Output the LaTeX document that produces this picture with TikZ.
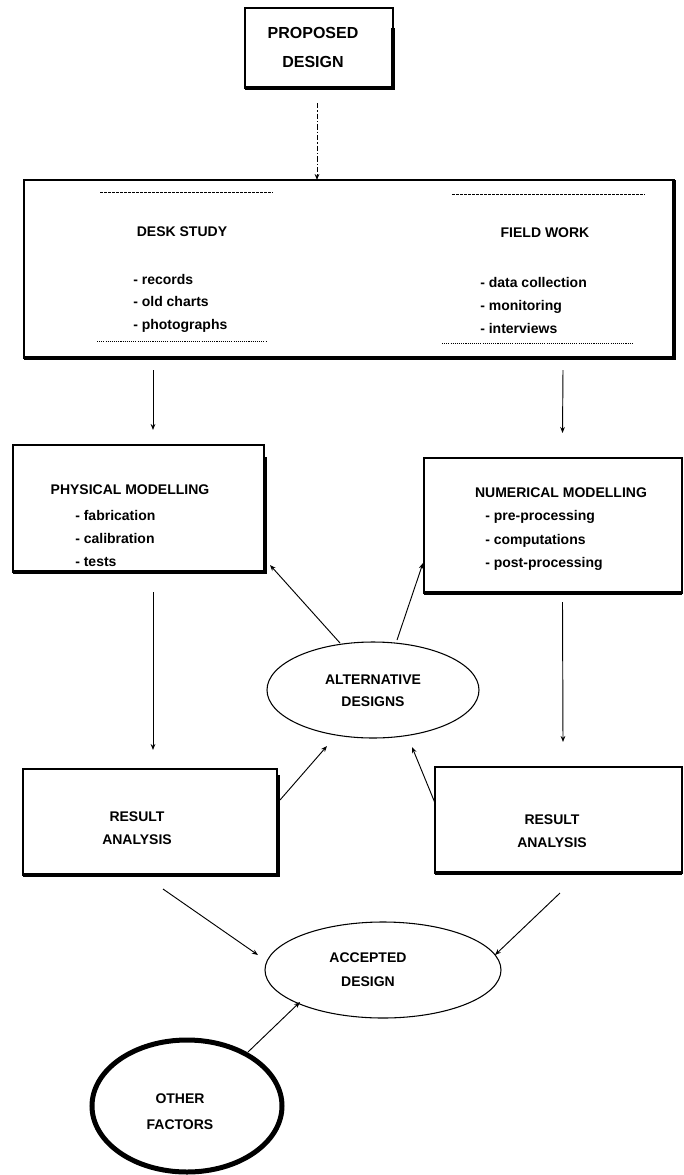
\documentclass[tikz,border=0pt]{standalone}
\usepackage{fontspec}
\setmainfont{Liberation Sans}
\usetikzlibrary{shapes.geometric,arrows.meta,calc}
\tikzset{
  pxgrid/.style={x=0.75pt,y=-0.75pt},
  box/.style={draw, line width=0.9pt, rectangle, inner sep=0pt, outer sep=0pt},
  oval/.style={draw, line width=0.8pt, ellipse, inner sep=0pt, outer sep=0pt},
  lbl/.style={font=\fontsize{10.5}{17}\selectfont\bfseries, inner sep=0pt, align=center},
  itemlist/.style={font=\fontsize{10.5}{17.2}\selectfont\bfseries, inner sep=0pt, align=left, anchor=west},
  arr/.style={line width=0.7pt, -{Stealth[length=4.5pt,width=3.5pt]}},
  shadowedge/.style={line width=2.6pt},
  guide/.style={line width=0.6pt, dash pattern=on 2pt off 1pt},
  dotguide/.style={line width=0.6pt, dash pattern=on 0.8pt off 0.8pt},
}
\begin{document}
\begin{tikzpicture}[pxgrid]
\fill[white] (0,0) rectangle (683,1175);
\useasboundingbox (0,0) rectangle (683,1175);

% Proposed design
\node[box, minimum width=111pt, minimum height=60pt] (prop) at (319,48) {};
\node[font=\fontsize{12}{21.75}\selectfont\bfseries, align=center, inner sep=0pt] (propt) at (313,47.5) {PROPOSED\\DESIGN};
\draw[shadowedge] ($(prop.north east)+(0,20)$) -- (prop.south east) -- (prop.south west);

% Desk study / field work box
\node[box, minimum width=487.5pt, minimum height=133.5pt] (big) at (349,269) {};
\draw[shadowedge] (big.north east) -- (big.south east) -- (big.south west);
\draw[guide] (100,192) -- (273,192);
\draw[guide] (452,194) -- (645,194);
\draw[dotguide] (97,341) -- (267,341);
\draw[dotguide] (442,343) -- (633,343);
\node[lbl] (desk) at (182,232) {DESK STUDY};
\node[itemlist, font=\fontsize{10.5}{16.9}\selectfont\bfseries] (deskitems) at (133,303) {- records\\- old charts\\- photographs};
\node[lbl] (field) at (545,233) {FIELD WORK};
\node[itemlist, font=\fontsize{10.5}{17.2}\selectfont\bfseries] (fielditems) at (480,305.5) {- data collection\\- monitoring\\- interviews};

% Physical modelling
\node[box, minimum width=188.25pt, minimum height=95.25pt] (phys) at (138.5,508.5) {};
\draw[shadowedge] ($(phys.north east)+(1,12)$) -- ($(phys.south east)+(1,0)$) -- (phys.south west);
\node[lbl] (physt) at (130,490) {PHYSICAL MODELLING};
\node[itemlist, font=\fontsize{10.5}{17.6}\selectfont\bfseries] (physitems) at (75,538.5) {- fabrication\\- calibration\\- tests};

% Numerical modelling
\node[box, minimum width=193.5pt, minimum height=101.25pt] (num) at (553,525.5) {};
\draw[shadowedge] (num.south west) -- (num.south east);
\node[lbl] (numt) at (561,493) {NUMERICAL MODELLING};
\node[itemlist, font=\fontsize{10.5}{17.6}\selectfont\bfseries] (numitems) at (485,540.5) {- pre-processing\\- computations\\- post-processing};

% Alternative designs
\node[oval, minimum width=159pt, minimum height=72pt] (alt) at (373,690) {};
\node[lbl, font=\fontsize{10.5}{16.5}\selectfont\bfseries] (altt) at (373,691) {ALTERNATIVE\\DESIGNS};

% Result analysis boxes
\node[box, minimum width=190.5pt, minimum height=79.5pt] (res1) at (150,822) {};
\draw[shadowedge] ($(res1.north east)+(1,6)$) -- ($(res1.south east)+(1,0)$) -- (res1.south west);
\node[lbl, font=\fontsize{10.5}{17.25}\selectfont\bfseries] (res1t) at (137,828.5) {RESULT\\ANALYSIS};

\node[box, minimum width=185.25pt, minimum height=79.5pt] (res2) at (558.5,820) {};
\draw[shadowedge] (res2.south west) -- (res2.south east);
\node[lbl, font=\fontsize{10.5}{17.25}\selectfont\bfseries] (res2t) at (552,831) {RESULT\\ANALYSIS};

% Accepted design
\node[oval, minimum width=177pt, minimum height=72pt] (acc) at (383,970) {};
\node[lbl, font=\fontsize{10.5}{18}\selectfont\bfseries] (acct) at (368,970) {ACCEPTED\\DESIGN};

% Other factors
\node[ellipse, draw, line width=3.75pt, inner sep=0pt, minimum width=142.5pt, minimum height=99pt] (other) at (187,1106) {};
\node[lbl, font=\fontsize{10.5}{20}\selectfont\bfseries] (othert) at (180,1111.5) {OTHER\\FACTORS};

% Connectors
\draw[arr, dash pattern=on 4pt off 1.5pt on 1pt off 1.5pt] ($(prop.south)+(-2,15)$) -- ($(big.north)+(-32,0)$);
\draw[arr] ($(big.south)+(-196,12)$) -- ($(phys.north)+(14.5,-15)$);
\draw[arr] ($(big.south)+(214,12)$) -- ($(num.north)+(9.5,-25)$);
\draw[arr] ($(phys.south)+(14.5,20)$) -- ($(res1.north)+(3,-19)$);
\draw[arr] ($(num.south)+(9.5,9)$) -- ($(res2.north)+(4.5,-25)$);
\draw[arr] ($(alt.center)+(-33,-47)$) -- ($(phys.south east)+(6,-7)$);
\draw[arr] ($(alt.center)+(24,-50)$) -- ($(num.south west)+(-1,-30)$);
\draw[arr] ($(res1.north east)+(3,31)$) -- ($(alt.center)+(-46,56)$);
\draw[arr] ($(res2.north west)+(0,36)$) -- ($(alt.center)+(39,57)$);
\draw[arr] ($(res1.south)+(13,14)$) -- ($(acc.center)+(-125,-15)$);
\draw[arr] ($(res2.south)+(1.5,20)$) -- ($(acc.center)+(112,-15)$);
\draw[arr] ($(other.center)+(61,-54)$) -- ($(acc.center)+(-83,32)$);
\end{tikzpicture}
\end{document}
